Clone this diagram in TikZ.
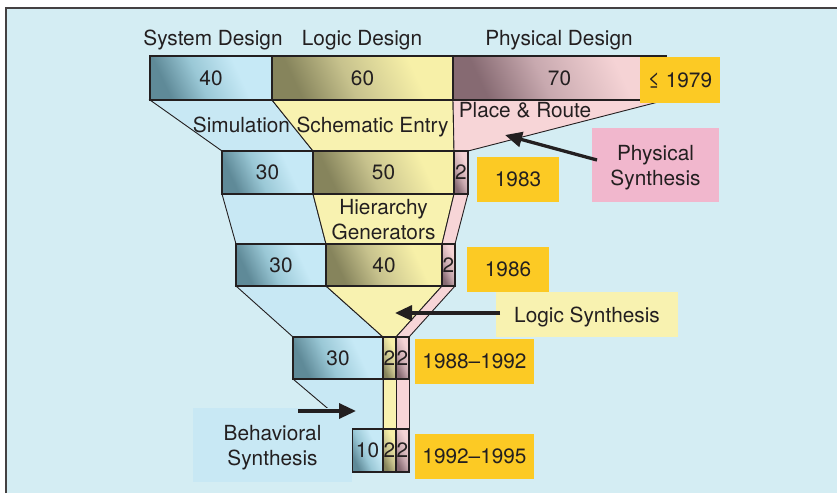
\documentclass[tikz,border=0pt]{standalone}
\usepackage{fontspec}
\setmainfont{TeX Gyre Heros}
\usetikzlibrary{arrows.meta}

% palette
\definecolor{ink}{HTML}{231F20}
\definecolor{panel}{HTML}{D4EDF3}
\definecolor{fblue}{HTML}{C8E8F4}
\definecolor{fyellow}{HTML}{F8F2B0}
\definecolor{fpink}{HTML}{F7D5D7}
\definecolor{gold}{HTML}{FCCA24}
\definecolor{rose}{HTML}{F1B7CD}
\definecolor{bluedk}{HTML}{5F8A98}
\definecolor{bluemd}{HTML}{9AC8D6}
\definecolor{bluelt}{HTML}{C6E9F6}
\definecolor{yeldk}{HTML}{86845C}
\definecolor{yelmd}{HTML}{C7C28D}
\definecolor{yellt}{HTML}{F7F0A8}
\definecolor{pinkdk}{HTML}{866A72}
\definecolor{pinkmd}{HTML}{C8A9AF}
\definecolor{pinklt}{HTML}{F5D3D5}

% bar gradients: dark towards the lower left, light on the right
\pgfdeclarehorizontalshading{barblue}{100bp}{color(0bp)=(bluedk); color(27bp)=(bluedk); color(44bp)=(bluemd); color(64bp)=(bluelt); color(100bp)=(bluelt)}
\pgfdeclarehorizontalshading{baryellow}{100bp}{color(0bp)=(yeldk); color(27bp)=(yeldk); color(45bp)=(yelmd); color(68bp)=(yellt); color(100bp)=(yellt)}
\pgfdeclarehorizontalshading{barpink}{100bp}{color(0bp)=(pinkdk); color(27bp)=(pinkdk); color(45bp)=(pinkmd); color(68bp)=(pinklt); color(100bp)=(pinklt)}

\tikzset{
  every node/.style={font=\fontsize{20.8pt}{25pt}\selectfont, text=ink, inner sep=0pt, outer sep=0pt},
  bar/.style={draw=ink, line width=1.4pt, shade, shading angle=25},
  bblue/.style={bar, shading=barblue},
  byel/.style={bar, shading=baryellow},
  bpink/.style={bar, shading=barpink},
  funnel/.style={draw=ink, line width=0.9pt},
  tag/.style={fill=gold},
  callout/.style={line width=3.3pt, draw=ink, -{Triangle[length=17pt,width=15pt]}},
}

\begin{document}
\begin{tikzpicture}[x=1pt, y=-1pt]
\useasboundingbox (0,0) rectangle (837,493);
\fill[white] (0,0) rectangle (837,493);
% panel
\fill[panel] (6,8) rectangle (837,493);
\draw[ink!85, line width=1.5pt] (6,493) -- (6,8) -- (837,8);

% funnel sections between the bars
\filldraw[funnel, fill=fblue]   (150,100) -- (272,100) -- (313,151) -- (222,151) -- cycle;
\filldraw[funnel, fill=fyellow] (272,100) -- (453,100) -- (454,151) -- (313,151) -- cycle;
\filldraw[funnel, fill=fpink]   (453,100) -- (666,100) -- (468,151) -- (454,151) -- cycle;

\filldraw[funnel, fill=fblue]   (222,194) -- (313,194) -- (326,244) -- (236,244) -- cycle;
\filldraw[funnel, fill=fyellow] (313,194) -- (454,194) -- (442,244) -- (326,244) -- cycle;
\filldraw[funnel, fill=fpink]   (454,194) -- (468,194) -- (455,244) -- (442,244) -- cycle;

\filldraw[funnel, fill=fblue]   (236,286) -- (326,286) -- (383,337) -- (293,337) -- cycle;
\filldraw[funnel, fill=fyellow] (326,286) -- (442,286) -- (396,337) -- (383,337) -- cycle;
\filldraw[funnel, fill=fpink]   (442,286) -- (455,286) -- (409,337) -- (396,337) -- cycle;

\filldraw[funnel, fill=fblue]   (293,379) -- (383,379) -- (383,429) -- (352,429) -- cycle;
\filldraw[funnel, fill=fyellow] (383,379) -- (396,379) -- (396,429) -- (383,429) -- cycle;
\filldraw[funnel, fill=fpink]   (396,379) -- (409,379) -- (409,429) -- (396,429) -- cycle;

% column headings
\node[anchor=base] (hsys)  at (213,45) {System Design};
\node[anchor=base] (hlog)  at (362,45) {Logic Design};
\node[anchor=base] (hphys) at (559,45) {Physical Design};

% row 1
\node[bblue, minimum width=122, minimum height=44] (r1s) at (211,78)   {40};
\node[byel,  minimum width=181, minimum height=44] (r1l) at (362.5,78) {60};
\node[bpink, minimum width=213, minimum height=44] (r1p) at (559.5,78) {70};
% row 2
\node[bblue, minimum width=91,  minimum height=43] (r2s) at (267.5,172.5) {30};
\node[byel,  minimum width=141, minimum height=43] (r2l) at (383.5,172.5) {50};
\node[bpink, minimum width=14,  minimum height=43] (r2p) at (461,172.5)   {2};
% row 3
\node[bblue, minimum width=90,  minimum height=42] (r3s) at (281,265)   {30};
\node[byel,  minimum width=116, minimum height=42] (r3l) at (384,265)   {40};
\node[bpink, minimum width=13,  minimum height=42] (r3p) at (448.5,265) {2};
% row 4
\node[bblue, minimum width=90, minimum height=42] (r4s) at (338,358)   {30};
\node[byel,  minimum width=13, minimum height=42] (r4l) at (389.5,358) {2};
\node[bpink, minimum width=13, minimum height=42] (r4p) at (402.5,358) {2};
% row 5
\node[bblue, minimum width=31, minimum height=43] (r5s) at (367.5,450.5) {10};
\node[byel,  minimum width=13, minimum height=43] (r5l) at (389.5,450.5) {2};
\node[bpink, minimum width=13, minimum height=43] (r5p) at (402.5,450.5) {2};

% tool labels inside the funnel
\node[anchor=base] (tsim)   at (241.5,132) {Simulation};
\node[anchor=base] (tschem) at (372.5,132) {Schematic Entry};
\node[anchor=base] (tpr)    at (525,117)   {Place \& Route};
\node[align=center] (thier) at (383.5,219.5) {Hierarchy\\Generators};

% year tags
\node[tag, minimum width=80,  minimum height=46] (y79) at (680,80)      {≤ 1979};
\node[tag, minimum width=82,  minimum height=45] (y83) at (518,179.5)   {1983};
\node[tag, minimum width=82,  minimum height=45] (y86) at (508,269.5)   {1986};
\node[tag, minimum width=119, minimum height=45] (y88) at (474.5,361.5) {1988–1992};
\node[tag, minimum width=119, minimum height=45] (y92) at (474.5,456.5) {1992–1995};

% synthesis callouts
\node[fill=rose, align=center, text depth=0pt, minimum width=127, minimum height=74] (physyn) at (655.5,165) {Physical\\Synthesis};
\node[fill=fyellow, text depth=0pt, minimum width=182, minimum height=45] (logsyn) at (587,314.5) {Logic Synthesis};
\node[fill=fblue, align=center, text depth=0pt, minimum width=159, minimum height=74] (behsyn) at (272.5,445) {Behavioral\\Synthesis};

\coordinate (physTail) at (597,160);
\coordinate (physTip)  at (505,135);
\coordinate (logTail)  at (500,313);
\coordinate (logTip)   at (395,313);
\coordinate (behTail)  at (298,411);
\coordinate (behTip)   at (356,411);
\draw[callout] (physTail) -- (physTip);
\draw[callout] (logTail) -- (logTip);
\draw[callout] (behTail) -- (behTip);
\end{tikzpicture}
\end{document}
